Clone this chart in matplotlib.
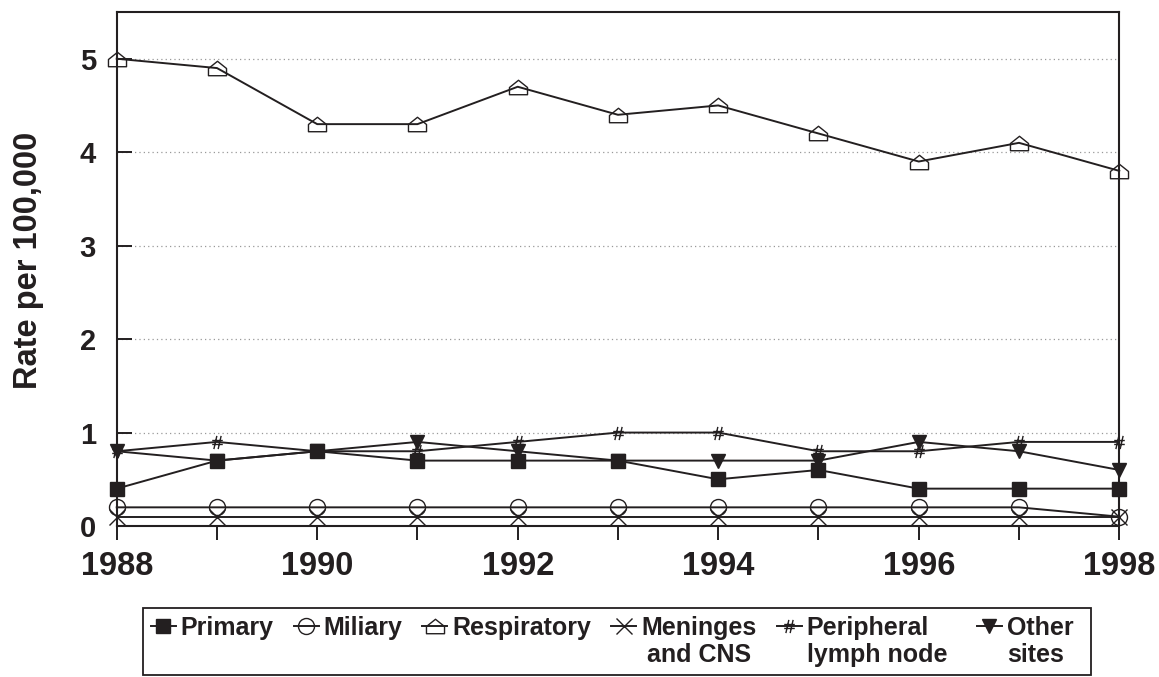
import numpy as np
import matplotlib
matplotlib.use('Agg')
import matplotlib.pyplot as plt
from matplotlib.path import Path
from matplotlib.offsetbox import DrawingArea, HPacker

plt.rcParams['font.family'] = ['Liberation Sans', 'DejaVu Sans']
plt.rcParams['font.weight'] = 'bold'

# data (rate per 100,000)
years = [1988, 1989, 1990, 1991, 1992, 1993, 1994, 1995, 1996, 1997, 1998]
primary = [0.4, 0.7, 0.8, 0.7, 0.7, 0.7, 0.5, 0.6, 0.4, 0.4, 0.4]
miliary = [0.2, 0.2, 0.2, 0.2, 0.2, 0.2, 0.2, 0.2, 0.2, 0.2, 0.1]
respiratory = [5.0, 4.9, 4.3, 4.3, 4.7, 4.4, 4.5, 4.2, 3.9, 4.1, 3.8]
meninges = [0.1, 0.1, 0.1, 0.1, 0.1, 0.1, 0.1, 0.1, 0.1, 0.1, 0.1]
peripheral = [0.8, 0.9, 0.8, 0.8, 0.9, 1.0, 1.0, 0.8, 0.8, 0.9, 0.9]
other = [0.8, 0.7, 0.8, 0.9, 0.8, 0.7, 0.7, 0.7, 0.9, 0.8, 0.6]

series_labels = ['Primary', 'Miliary', 'Respiratory', 'Meninges\nand CNS',
                 'Peripheral\nlymph node', 'Other\nsites']
xtick_labels = [str(y) if y % 2 == 0 else '' for y in years]
yticks = [0, 1, 2, 3, 4, 5]

ink = '#231f20'

# custom markers: little house and a slanted hash
house = Path([(-1, 0), (0, 0.8), (1, 0), (1, -0.8), (-1, -0.8), (-1, 0)],
             [Path.MOVETO, Path.LINETO, Path.LINETO, Path.LINETO, Path.LINETO, Path.CLOSEPOLY])
hash_mark = Path([(-0.55, -1), (-0.1, 1), (0.1, -1), (0.55, 1),
                  (-0.8, 0.3), (0.8, 0.3), (-0.8, -0.3), (0.8, -0.3)],
                 [Path.MOVETO, Path.LINETO] * 4)

fig = plt.figure(figsize=(11.59, 6.77), dpi=100)
ax = fig.add_axes([0.1007, 0.2230, 0.8650, 0.7593])

common = dict(color=ink, lw=1.4, clip_on=False, mec=ink)
ax.plot(years, primary, marker='s', ms=10.5, mfc=ink, label=series_labels[0], **common)
ax.plot(years, miliary, marker='o', ms=11.5, mfc='none', mew=1.0, label=series_labels[1], **common)
ax.plot(years, respiratory, marker=house, ms=13, mfc='none', mew=1.0, label=series_labels[2], **common)
ax.plot(years, meninges, marker='x', ms=12, mew=1.0, label=series_labels[3], **common)
ax.plot(years, peripheral, marker=hash_mark, ms=9.5, mfc='none', mew=1.0, label=series_labels[4], **common)
ax.plot(years, other, marker='v', ms=10, mfc=ink, label=series_labels[5], **common)

ax.set_xlim(1988, 1998)
ax.set_ylim(0, 5.5)
ax.set_xticks(years)
ax.set_xticklabels(xtick_labels, fontsize=23.5, fontweight='bold', color=ink)
ax.set_yticks(yticks)
ax.set_yticklabels([str(v) for v in yticks], fontsize=21, fontweight='bold', color=ink)
ax.tick_params(axis='x', direction='out', length=10, width=1.4, pad=8, colors=ink)
ax.tick_params(axis='y', direction='in', length=11, width=1.4, pad=15, colors=ink)
ax.yaxis.grid(True, linestyle=(0, (1, 2.5)), color='#999999', lw=0.9)
ax.set_axisbelow(True)
for s in ax.spines.values():
    s.set_linewidth(1.5)
    s.set_color(ink)

ax.set_ylabel('Rate per 100,000', fontsize=23.5, fontweight='bold', color=ink)
ax.yaxis.set_label_coords(-0.073, 0.516)

leg = ax.legend(loc='upper left', bbox_to_anchor=(0.1234, 0.1019),
                bbox_transform=fig.transFigure, ncol=6, fontsize=18,
                frameon=True, fancybox=False, edgecolor=ink, framealpha=1,
                borderpad=0.3, handlelength=1.0, handletextpad=0.2,
                columnspacing=0.8, handleheight=1.1, borderaxespad=0)
leg.get_frame().set_linewidth(1.3)
for t in leg.get_texts():
    t.set_color(ink)
leg.get_texts()[3].set_multialignment('center')

# align multi-line entries at their first line, nudge last column right
box = leg._legend_handle_box
box.align = 'top'
cols = box.get_children()
for col in cols:
    for item in col.get_children():
        item.align = 'top'
cols[5] = HPacker(pad=0, sep=0, align='top',
                  children=[DrawingArea(7, 1), cols[5], DrawingArea(7, 1)])

fig.savefig('out.png', dpi=100)
